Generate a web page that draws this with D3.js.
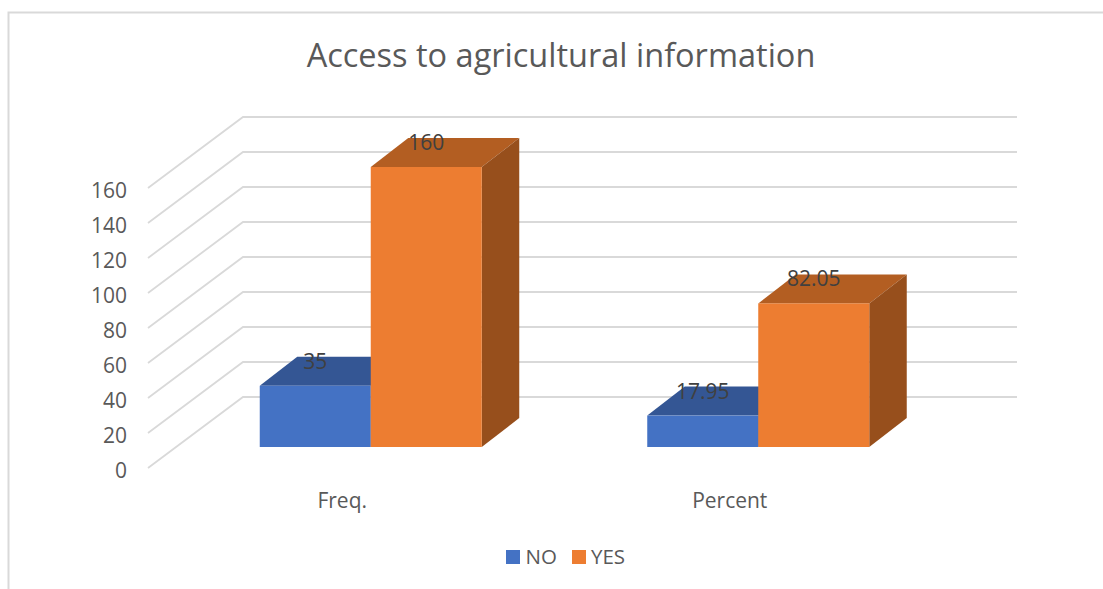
<!DOCTYPE html>
<html>
<head>
<meta charset="utf-8">
<script src="https://cdn.jsdelivr.net/npm/d3@7/dist/d3.min.js"></script>
<style>
html,body{margin:0;padding:0;background:#fff;overflow:hidden}
svg{display:block}
text{font-family:"Open Sans","Noto Sans",sans-serif}
</style>
</head>
<body>
<svg id="c" width="1103" height="589"></svg>
<script>
const title = "Access to agricultural information";
const categories = ["Freq.", "Percent"];
const seriesNames = ["NO", "YES"];
const noValues = [35, 17.95];
const yesValues = [160, 82.05];
const valueLabels = {NO: ["35", "17.95"], YES: ["160", "82.05"]};
const tickValues = [0, 20, 40, 60, 80, 100, 120, 140, 160];
const seriesColors = {
  NO:  {front: "#4472c4", top: "#345694", side: "#2f5597"},
  YES: {front: "#ed7d31", top: "#b35e22", side: "#974f1c"}
};

const svg = d3.select("#c");

// chart frame (cropped at right and bottom, as in the picture)
svg.append("path").attr("d", "M8.5,589V12.5H1103").attr("fill", "none")
  .attr("stroke", "#d9d9d9").attr("stroke-width", 2);

// oblique 3D projection
const wallDX = 95, wallDY = -71;      // front edge to back wall
const barOffsetDX = 28, barOffsetDY = -21; // front edge to bar front
const barDX = 37.5, barDY = -29;     // bar depth

const y = d3.scaleLinear().domain([0, 160]).range([468, 188]);
const x0 = d3.scaleBand().domain(categories).range([148 + barOffsetDX + 1, 922 + barOffsetDX + 2]);
const x1 = d3.scaleBand().domain(seriesNames).range([0, 222]);
const line = d3.line();

// gridlines
svg.append("g").selectAll("path").data(tickValues).join("path")
  .attr("fill", "none").attr("stroke", "#d9d9d9").attr("stroke-width", 1.8)
  .attr("d", v => line([
    [148, y(v)],
    [148 + wallDX, y(v) + wallDY],
    [1017, y(v) + wallDY]
  ]));

// y tick labels
svg.append("g").selectAll("text").data(tickValues).join("text")
  .attr("x", 127).attr("y", v => y(v) + 2)
  .attr("text-anchor", "end").attr("dominant-baseline", "central")
  .attr("font-size", 21).attr("fill", "#595959").text(d => d);

// bars
const rows = [];
categories.forEach((c, i) => {
  rows.push({c, s: "NO", v: noValues[i], label: valueLabels.NO[i]});
  rows.push({c, s: "YES", v: yesValues[i], label: valueLabels.YES[i]});
});
const geo = d => {
  const left = x0(d.c) + (x0.bandwidth() - 222) / 2 + x1(d.s);
  const right = left + x1.bandwidth();
  const base = y(0) + barOffsetDY;
  const top = y(d.v) + barOffsetDY;
  return {left, right, base, top};
};

const bars = svg.append("g").selectAll("g").data(rows).join("g");
bars.append("path").attr("fill", d => seriesColors[d.s].top)
  .attr("d", d => { const g = geo(d); return line([[g.left, g.top], [g.left + barDX, g.top + barDY], [g.right + barDX, g.top + barDY], [g.right, g.top]]) + "Z"; });
bars.append("path").attr("fill", d => seriesColors[d.s].side)
  .attr("d", d => { const g = geo(d); return line([[g.right, g.top], [g.right + barDX, g.top + barDY], [g.right + barDX, g.base + barDY], [g.right, g.base]]) + "Z"; });
bars.append("rect").attr("fill", d => seriesColors[d.s].front)
  .attr("x", d => geo(d).left).attr("y", d => geo(d).top)
  .attr("width", x1.bandwidth()).attr("height", d => geo(d).base - geo(d).top);

// value labels
svg.append("g").selectAll("text").data(rows).join("text")
  .attr("x", d => (geo(d).left + geo(d).right) / 2)
  .attr("y", d => geo(d).top - 25)
  .attr("text-anchor", "middle").attr("dominant-baseline", "central")
  .attr("font-size", 21).attr("fill", "#404040").text(d => d.label);

// category labels
svg.append("g").selectAll("text").data(categories).join("text")
  .attr("x", d => x0(d) + x0.bandwidth() / 2 - 28.5)
  .attr("y", 500)
  .attr("text-anchor", "middle").attr("dominant-baseline", "central")
  .attr("font-size", 21).attr("fill", "#595959").text(d => d);

// title
svg.append("text").attr("x", 561).attr("y", 54)
  .attr("text-anchor", "middle").attr("dominant-baseline", "central")
  .attr("font-size", 32.5).attr("fill", "#595959").text(title);

// legend
const legendX = {NO: 506, YES: 572};
const legend = svg.append("g").selectAll("g").data(seriesNames).join("g");
legend.append("rect").attr("x", d => legendX[d]).attr("y", 550)
  .attr("width", 14).attr("height", 14).attr("fill", d => seriesColors[d].front);
legend.append("text").attr("x", d => legendX[d] + (d === "NO" ? 19.5 : 19)).attr("y", 556)
  .attr("dominant-baseline", "central").attr("font-size", 20.5)
  .attr("fill", "#595959").text(d => d);
</script>
</body>
</html>
